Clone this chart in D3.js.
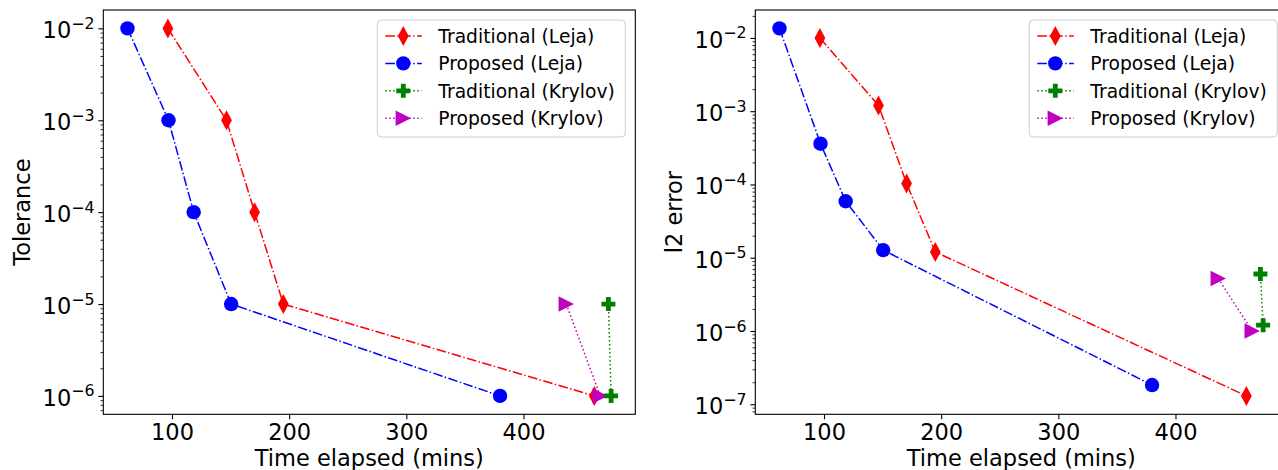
<!DOCTYPE html>
<html>
<head>
<meta charset="utf-8">
<script src="https://cdn.jsdelivr.net/npm/d3@7"></script>
<style>
body { margin: 0; background: #fff; }
svg { display: block; font-family: "DejaVu Sans", sans-serif; }
</style>
</head>
<body>
<div id="chart"></div>
<script>
var svgWidth = 1278;
var svgHeight = 470;

// time elapsed (mins), same for both panels
var tradLejaTime = [96.5, 146.5, 170.5, 195, 460.5];
var propLejaTime = [62, 97, 118.5, 150.5, 380];
var tradKrylovTime = [472.5, 474.8];
var propKrylovTime = [436.5, 465.5];

// left panel: tolerance
var tradLejaTol = [1e-2, 1e-3, 1e-4, 1e-5, 1e-6];
var propLejaTol = [1e-2, 1e-3, 1e-4, 1e-5, 1e-6];
var tradKrylovTol = [1e-5, 1e-6];
var propKrylovTol = [1e-5, 1e-6];

// right panel: l2 error
var tradLejaErr = [1.0e-2, 1.2e-3, 1.03e-4, 1.2e-5, 1.3e-7];
var propLejaErr = [1.35e-2, 3.6e-4, 5.9e-5, 1.27e-5, 1.83e-7];
var tradKrylovErr = [6.0e-6, 1.2e-6];
var propKrylovErr = [5.2e-6, 1.0e-6];

var seriesNames = ["Traditional (Leja)", "Proposed (Leja)", "Traditional (Krylov)", "Proposed (Krylov)"];
var xTickValues = [100, 200, 300, 400];
var xLabel = "Time elapsed (mins)";
var yLabels = ["Tolerance", "l2 error"];

var colors = ["#ff0000", "#0000ff", "#008000", "#bf00bf"];
var markers = ["thin_diamond", "circle", "plus", "triangle"];
var dashes = ["9.6,2.4,1.5,2.4", "9.6,2.4,1.5,2.4", "1.5,2.5", "1.5,2.5"];

var panelWidth = 532;
var panelHeight = 404.3;
var panelTop = 10;
var panelLefts = [103.3, 755.3];

var svg = d3.select("#chart").append("svg").attr("width", svgWidth).attr("height", svgHeight);

function markerPath(type) {
	if (type == "thin_diamond") return "M0,-10L5.4,0L0,10L-5.4,0Z";
	if (type == "circle") return "M7.2,0A7.2,7.2 0 1,1 -7.2,0A7.2,7.2 0 1,1 7.2,0Z";
	if (type == "plus") return "M-2.4,-7H2.4V-2.4H7V2.4H2.4V7H-2.4V2.4H-7V-2.4H-2.4Z";
	return "M7.7,0L-7.7,7.7L-7.7,-7.7Z";
}

function drawPanel(left, xs, ys, yLabel) {
	var g = svg.append("g").attr("transform", `translate(${left}, ${panelTop})`);

	var allX = [].concat(...xs);
	var xExt = d3.extent(allX);
	var xPad = (xExt[1] - xExt[0]) * 0.05;
	var xScale = d3.scaleLinear().domain([xExt[0] - xPad, xExt[1] + xPad]).range([0, panelWidth]);

	var allY = [].concat(...ys).map(v => Math.log10(v));
	var yExt = d3.extent(allY);
	var yPad = (yExt[1] - yExt[0]) * 0.05;
	var yScale = d3.scaleLog().domain([Math.pow(10, yExt[0] - yPad), Math.pow(10, yExt[1] + yPad)]).range([panelHeight, 0]);

	// decades and minor ticks inside the domain
	var lo = Math.ceil(yExt[0] - yPad), hi = Math.floor(yExt[1] + yPad);
	var majors = d3.range(lo, hi + 1);
	var minors = [];
	for (var e = lo - 1; e <= hi; e++) {
		for (var m = 2; m <= 9; m++) {
			var v = m * Math.pow(10, e);
			if (v >= yScale.domain()[0] && v <= yScale.domain()[1]) minors.push(v);
		}
	}

	// x axis
	var xAxis = g.append("g").attr("transform", `translate(0, ${panelHeight})`)
		.call(d3.axisBottom(xScale).tickValues(xTickValues).tickSize(4.9).tickPadding(3).tickFormat(d3.format("d")));
	xAxis.select(".domain").remove();
	xAxis.attr("font-family", null);
	xAxis.selectAll(".tick line").attr("stroke", "#000").attr("stroke-width", 1.1);
	xAxis.selectAll(".tick text").attr("font-size", "22.5px").attr("fill", "#000").attr("dy", null).attr("y", 25.7);

	// y axis, minor ticks first
	var yMinor = g.append("g").call(d3.axisLeft(yScale).tickValues(minors).tickSize(2.8).tickFormat(""));
	yMinor.select(".domain").remove();
	yMinor.selectAll(".tick line").attr("stroke", "#000").attr("stroke-width", 0.8);

	var yAxis = g.append("g").call(d3.axisLeft(yScale).tickValues(majors.map(k => Math.pow(10, k))).tickSize(4.9).tickFormat(""));
	yAxis.select(".domain").remove();
	yAxis.attr("font-family", null);
	yAxis.selectAll(".tick line").attr("stroke", "#000").attr("stroke-width", 1.1);
	yAxis.selectAll(".tick text").remove();
	yAxis.selectAll(".tick").each(function(d) {
		var t = d3.select(this).append("text").attr("x", -8.8).attr("y", 9.3)
			.attr("text-anchor", "end").attr("fill", "#000").attr("font-size", "22.5px");
		t.append("tspan").text("10");
		t.append("tspan").attr("font-size", "15.8px").attr("dy", -9.3).text("\u2212" + Math.round(-Math.log10(d)));
	});

	// series: lines and markers, green drawn on top of magenta
	var drawOrder = [0, 1, 3, 2];
	var line = d3.line().x(d => xScale(d[0])).y(d => yScale(d[1]));
	drawOrder.forEach(function(i) {
		var pts = xs[i].map((x, j) => [x, ys[i][j]]);
		g.append("path").datum(pts).attr("d", line).attr("fill", "none")
			.attr("stroke", colors[i]).attr("stroke-width", 1.5).attr("stroke-dasharray", dashes[i]);
		g.selectAll(".m" + i).data(pts).enter().append("path").attr("class", "m" + i)
			.attr("transform", d => `translate(${xScale(d[0])}, ${yScale(d[1])})`)
			.attr("d", markerPath(markers[i])).attr("fill", colors[i]);
	});

	// frame
	g.append("rect").attr("width", panelWidth).attr("height", panelHeight)
		.attr("fill", "none").attr("stroke", "#000").attr("stroke-width", 1.1);

	// axis labels
	g.append("text").attr("x", panelWidth / 2).attr("y", 456).attr("text-anchor", "middle")
		.attr("font-size", "22.5px").attr("fill", "#000").text(xLabel);
	g.append("text").attr("transform", `translate(-73, ${panelHeight / 2}) rotate(-90)`)
		.attr("text-anchor", "middle").attr("font-size", "22.5px").attr("fill", "#000").text(yLabel);

	// legend
	var legW = 248, legH = 117;
	var leg = g.append("g").attr("transform", `translate(${panelWidth - 10 - legW}, 10)`);
	leg.append("rect").attr("width", legW).attr("height", legH).attr("rx", 4)
		.attr("fill", "#fff").attr("fill-opacity", 0.8).attr("stroke", "#cccccc").attr("stroke-width", 1);
	seriesNames.forEach(function(name, i) {
		var cy = 16 + i * 27.4;
		leg.append("line").attr("x1", 8).attr("x2", 44.5).attr("y1", cy).attr("y2", cy)
			.attr("stroke", colors[i]).attr("stroke-width", 1.5).attr("stroke-dasharray", dashes[i]);
		leg.append("path").attr("transform", `translate(26, ${cy})`).attr("d", markerPath(markers[i])).attr("fill", colors[i]);
		leg.append("text").attr("x", 61).attr("y", cy).attr("dy", "0.36em")
			.attr("font-size", "18.7px").attr("fill", "#000").text(name);
	});
}

var times = [tradLejaTime, propLejaTime, tradKrylovTime, propKrylovTime];
drawPanel(panelLefts[0], times, [tradLejaTol, propLejaTol, tradKrylovTol, propKrylovTol], yLabels[0]);
drawPanel(panelLefts[1], times, [tradLejaErr, propLejaErr, tradKrylovErr, propKrylovErr], yLabels[1]);
</script>
</body>
</html>
